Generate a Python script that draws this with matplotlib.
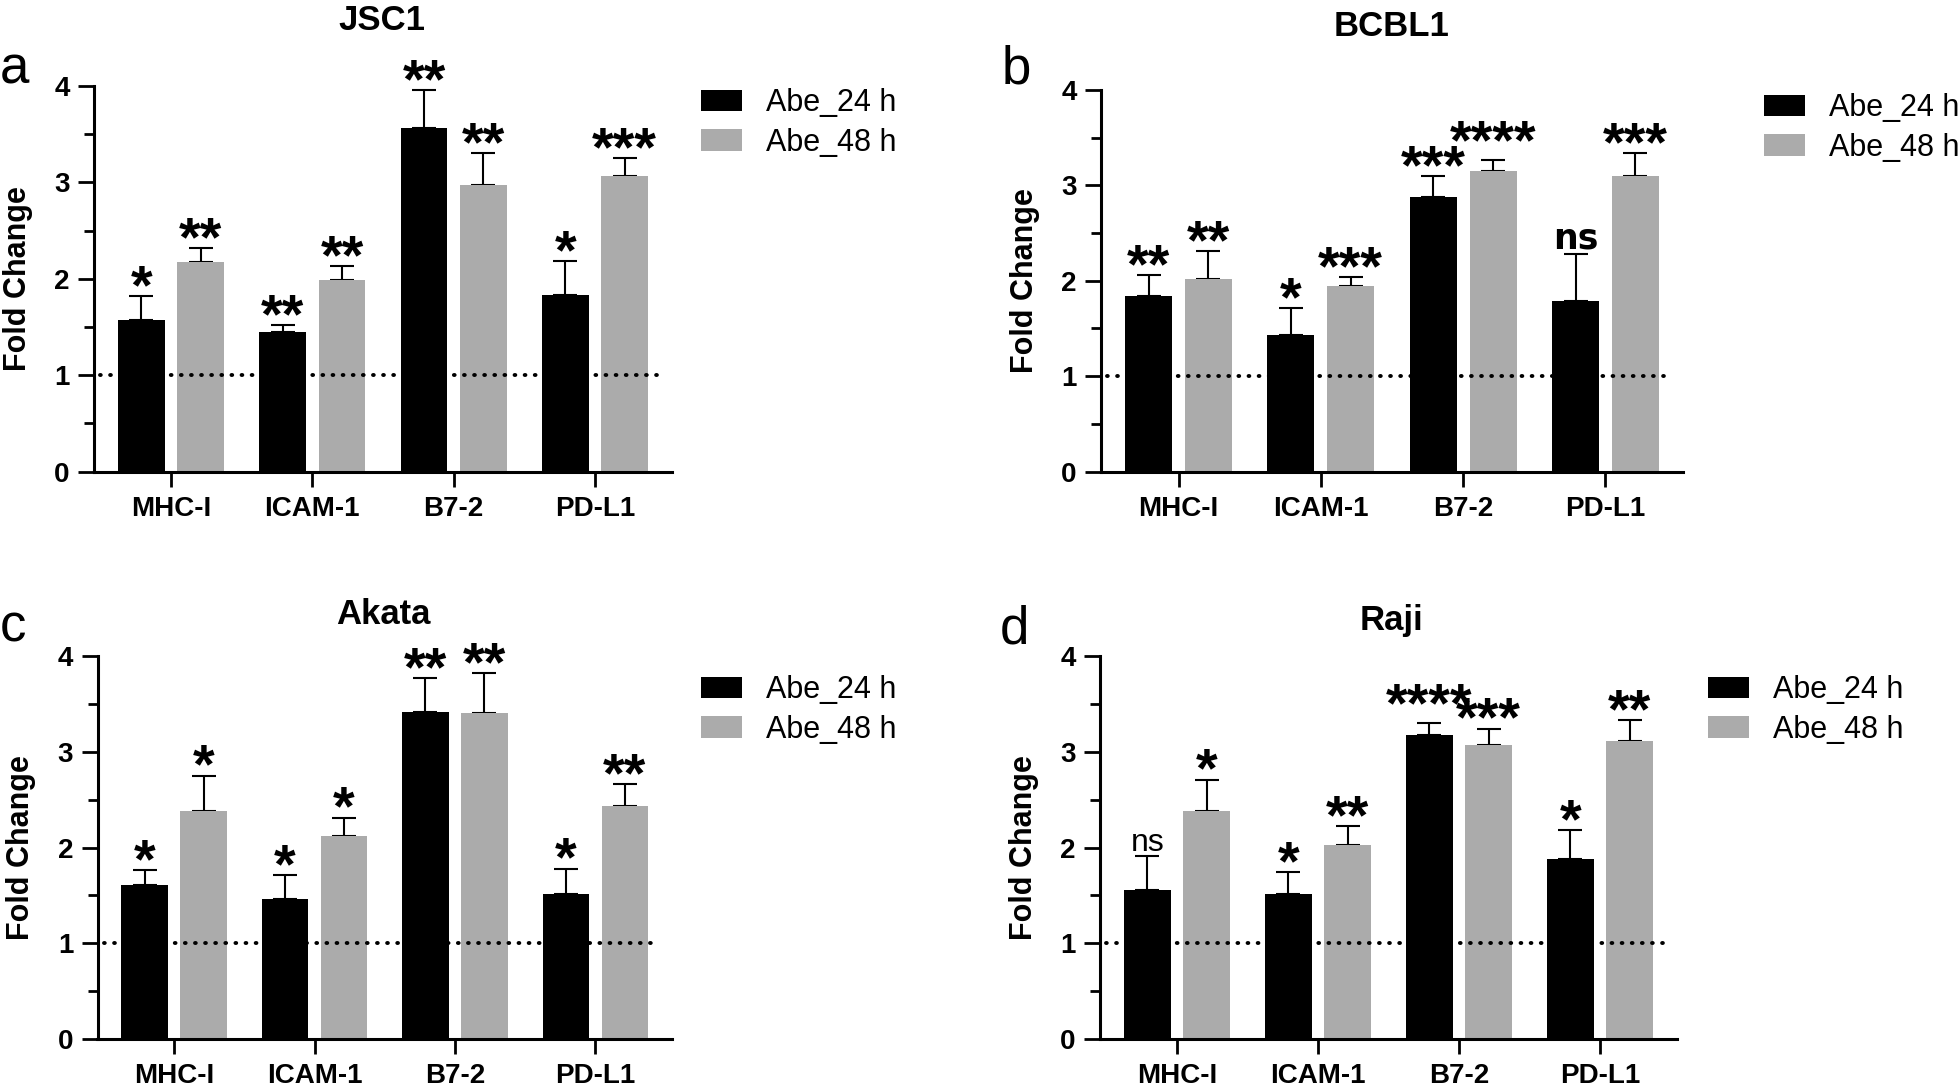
import matplotlib
matplotlib.use("Agg")
import matplotlib.pyplot as plt
from matplotlib.ticker import MultipleLocator
import numpy as np

plt.rcParams['font.family'] = ['Liberation Sans', 'DejaVu Sans']

W, H = 1959, 1092

markers = ['MHC-I', 'ICAM-1', 'B7-2', 'PD-L1']
series_names = ['Abe_24 h', 'Abe_48 h']

# JSC1
jsc1_24 = [1.57, 1.45, 3.56, 1.83]
jsc1_24_err = [0.25, 0.07, 0.40, 0.35]
jsc1_48 = [2.17, 1.99, 2.97, 3.07]
jsc1_48_err = [0.15, 0.14, 0.33, 0.18]
jsc1_sig_24 = ['*', '**', '**', '*']
jsc1_sig_48 = ['**', '**', '**', '***']

# BCBL1
bcbl1_24 = [1.84, 1.43, 2.88, 1.79]
bcbl1_24_err = [0.22, 0.28, 0.22, 0.49]
bcbl1_48 = [2.02, 1.94, 3.15, 3.10]
bcbl1_48_err = [0.29, 0.10, 0.12, 0.24]
bcbl1_sig_24 = ['**', '*', '***', 'ns']
bcbl1_sig_48 = ['**', '***', '****', '***']

# Akata
akata_24 = [1.61, 1.46, 3.41, 1.51]
akata_24_err = [0.15, 0.25, 0.36, 0.27]
akata_48 = [2.38, 2.12, 3.40, 2.43]
akata_48_err = [0.37, 0.19, 0.42, 0.23]
akata_sig_24 = ['*', '*', '**', '*']
akata_sig_48 = ['*', '*', '**', '**']

# Raji
raji_24 = [1.56, 1.51, 3.18, 1.88]
raji_24_err = [0.35, 0.23, 0.12, 0.30]
raji_48 = [2.38, 2.03, 3.07, 3.11]
raji_48_err = [0.33, 0.19, 0.17, 0.22]
raji_sig_24 = ['ns', '*', '****', '*']
raji_sig_48 = ['*', '**', '***', '**']

BLACK = '#000000'
GREY = '#ababab'


def px_rect(left, top, right, bottom):
    return [left / W, 1 - bottom / H, (right - left) / W, (bottom - top) / H]


def draw_sig(ax, x, y, label, ns_bold):
    if label == 'ns':
        ax.annotate(label, (x, y), xytext=(0, 4), textcoords='offset points',
                    ha='center', va='baseline', fontsize=25 if ns_bold else 23,
                    fontweight='bold' if ns_bold else 'normal',
                    family=['DejaVu Sans'] if ns_bold else ['Liberation Sans'],
                    annotation_clip=False)
    else:
        # the longest labels sit a little higher, as in the original figure
        lift = 6 if len(label) == 4 else 0
        ax.annotate(label, (x, y), xytext=(0, -5 + lift), textcoords='offset points',
                    ha='center', va='baseline', fontsize=40, fontweight='bold',
                    family=['Liberation Sans'], annotation_clip=False)


def panel(rect, title, title_xy, letter, letter_xy, legend_xy,
          v24, e24, v48, e48, s24, s48, ns_bold=False):
    ax = fig.add_axes(px_rect(*rect))
    x = np.arange(len(markers))
    w = 0.33
    off = 0.21
    b24 = ax.bar(x - off, v24, w, color=BLACK, zorder=2)
    b48 = ax.bar(x + off, v48, w, color=GREY, zorder=2)
    for xs, vals, errs in [(x - off, v24, e24), (x + off, v48, e48)]:
        ax.errorbar(xs, vals, yerr=[np.zeros(len(vals)), errs], fmt='none',
                    ecolor='black', elinewidth=1.5, capsize=8.3, capthick=1.5,
                    zorder=1)
    for i in range(len(markers)):
        draw_sig(ax, x[i] - off, v24[i] + e24[i], s24[i], ns_bold)
        draw_sig(ax, x[i] + off, v48[i] + e48[i], s48[i], ns_bold)

    ref = ax.hlines(1, -0.5, 3.45, colors='black', linestyles=(0, (0.2, 2.4)),
                    linewidth=2.8, zorder=3)
    ref.set_capstyle('round')

    ax.set_xlim(-0.545, 3.545)
    ax.set_ylim(0, 4)
    ax.set_xticks(x)
    ax.set_xticklabels(markers, fontsize=20, fontweight='bold')
    ax.yaxis.set_major_locator(MultipleLocator(1))
    ax.yaxis.set_minor_locator(MultipleLocator(0.5))
    for lab in ax.get_yticklabels():
        lab.set_fontsize(20)
        lab.set_fontweight('bold')
    ax.tick_params(axis='x', length=10.5, width=2, pad=7)
    ax.tick_params(axis='y', which='major', length=11.5, width=2, pad=6)
    ax.tick_params(axis='y', which='minor', length=7, width=2)
    for s in ['top', 'right']:
        ax.spines[s].set_visible(False)
    for s in ['left', 'bottom']:
        ax.spines[s].set_linewidth(2.2)

    ax.set_ylabel('Fold Change', fontsize=22, fontweight='bold', va='center')
    ax.yaxis.set_label_coords(-76 / (rect[2] - rect[0]), 0.5)

    ax.legend([b24, b48], series_names, loc='center left',
              bbox_to_anchor=(legend_xy[0] / W, 1 - legend_xy[1] / H),
              bbox_transform=fig.transFigure, frameon=False, fontsize=22,
              handlelength=1.34, handleheight=0.72, handletextpad=0.78,
              labelspacing=0.31, borderpad=0, borderaxespad=0)

    fig.text(title_xy[0] / W, 1 - title_xy[1] / H, title, ha='center',
             va='baseline', fontsize=25, fontweight='bold')
    fig.text(letter_xy[0] / W, 1 - letter_xy[1] / H, letter, ha='left',
             va='baseline', fontsize=38)
    return ax


fig = plt.figure(figsize=(W / 100, H / 100), dpi=100)

panel((94, 86, 672, 471.5), 'JSC1', (382, 30), 'a', (0, 83), (701, 123),
      jsc1_24, jsc1_24_err, jsc1_48, jsc1_48_err, jsc1_sig_24, jsc1_sig_48)
panel((1101, 90, 1683, 471.5), 'BCBL1', (1392, 36), 'b', (1002, 84), (1764, 128),
      bcbl1_24, bcbl1_24_err, bcbl1_48, bcbl1_48_err, bcbl1_sig_24, bcbl1_sig_48,
      ns_bold=True)
panel((97.5, 656, 672, 1039), 'Akata', (383, 624), 'c', (0, 642), (701, 710),
      akata_24, akata_24_err, akata_48, akata_48_err, akata_sig_24, akata_sig_48)
panel((1100, 656, 1677, 1039), 'Raji', (1391, 630), 'd', (1000, 643), (1708, 710),
      raji_24, raji_24_err, raji_48, raji_48_err, raji_sig_24, raji_sig_48)

fig.savefig('out.png', dpi=100, facecolor='white')
